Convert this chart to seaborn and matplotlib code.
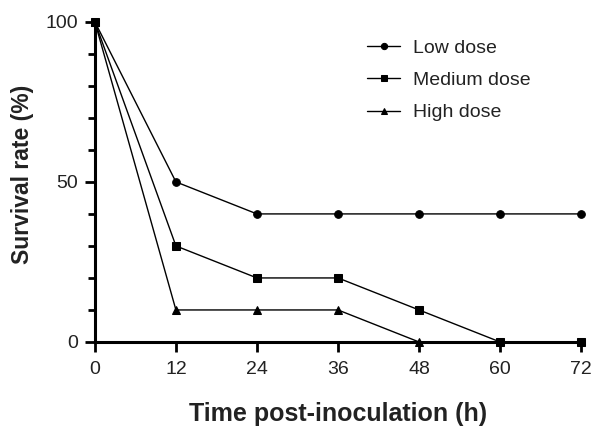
import numpy as np
import matplotlib
matplotlib.use('Agg')
import matplotlib.pyplot as plt
import seaborn as sns
import pandas as pd
from matplotlib.ticker import MultipleLocator

hours = [0, 12, 24, 36, 48, 60, 72]
low_dose = [100, 50, 40, 40, 40, 40, 40]
medium_dose = [100, 30, 20, 20, 10, 0, 0]
high_dose = [100, 10, 10, 10, 0]
series_names = ['Low dose', 'Medium dose', 'High dose']


def make_plot():
    sns.set_style('ticks')
    plt.rcParams['font.family'] = ['Liberation Sans', 'DejaVu Sans']

    df = pd.concat([
        pd.DataFrame({'time': hours, 'rate': low_dose, 'group': series_names[0]}),
        pd.DataFrame({'time': hours, 'rate': medium_dose, 'group': series_names[1]}),
        pd.DataFrame({'time': hours[:len(high_dose)], 'rate': high_dose, 'group': series_names[2]}),
    ])

    fig = plt.figure(figsize=(5.93, 4.28), dpi=100)
    ax = fig.add_axes([0.160, 0.201, 0.820, 0.748])

    sns.lineplot(data=df, x='time', y='rate', style='group', markers=['o', 's', '^'],
                 dashes=False, color='black', linewidth=1.0, markersize=5.5,
                 markeredgecolor='black', ax=ax, clip_on=False, zorder=3)

    ax.set_xlim(0, 72)
    ax.set_ylim(0, 100)
    ax.set_xticks(hours)
    ax.set_yticks([0, 50, 100])
    ax.yaxis.set_minor_locator(MultipleLocator(10))
    sns.despine(ax=ax)
    for s in ['left', 'bottom']:
        ax.spines[s].set_linewidth(2.2)
        ax.spines[s].set_color('black')
    ax.tick_params(which='major', length=7, width=2, labelsize=14, colors='black',
                   labelcolor='#222222')
    ax.tick_params(axis='x', which='major', pad=7)
    ax.tick_params(axis='y', which='major', pad=5)
    ax.tick_params(which='minor', length=5, width=2, colors='black')

    ax.set_xlabel('Time post-inoculation (h)', fontsize=18, fontweight='bold',
                  labelpad=17, color='#222222')
    ax.set_ylabel('Survival rate (%)', fontsize=16.5, fontweight='bold',
                  labelpad=8, color='#222222', y=0.525)

    leg = ax.legend(loc='upper left', bbox_to_anchor=(0.619, 0.908),
                    bbox_transform=fig.transFigure, frameon=False, borderaxespad=0,
                    borderpad=0, fontsize=14, handlelength=1.7, handletextpad=0.65,
                    labelspacing=0.75)
    for t in leg.get_texts():
        t.set_color('#222222')
    for h in leg.legend_handles:
        h.set_markersize(4.5)

    fig.savefig('out.png', dpi=100)


if __name__ == '__main__':
    make_plot()
